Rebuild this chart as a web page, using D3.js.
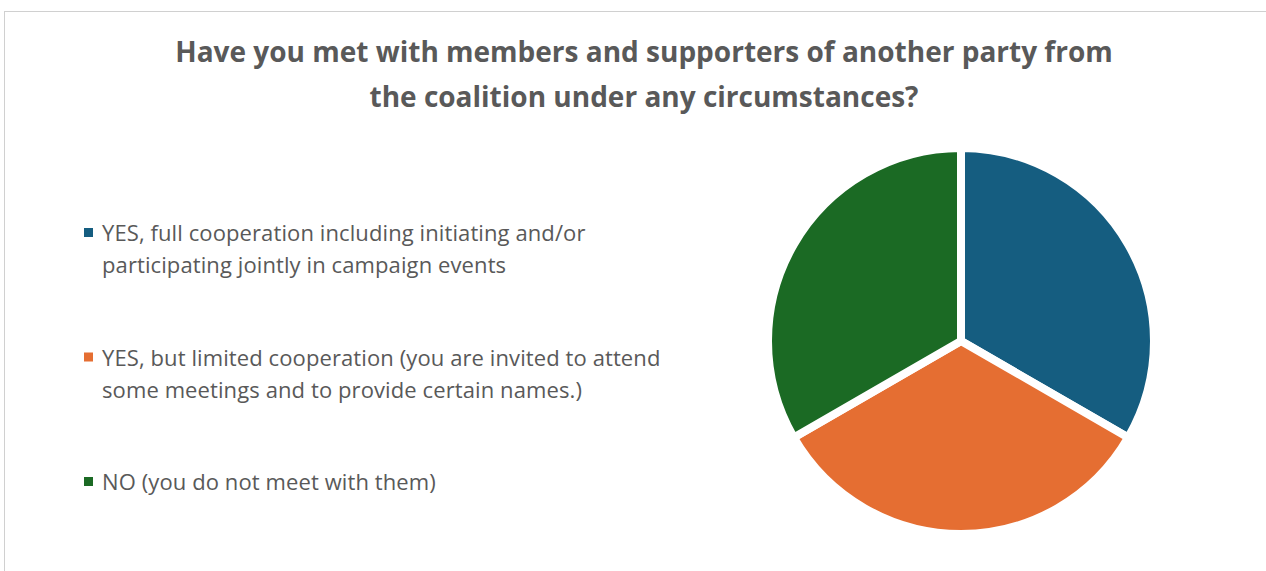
<!DOCTYPE html>
<html>
<head>
<meta charset="utf-8">
<script src="https://cdn.jsdelivr.net/npm/d3@7"></script>
<style>
  body { margin: 0; background: #fff; }
  svg { display: block; font-family: "Open Sans", sans-serif; }
</style>
</head>
<body>
<div id="chart"></div>
<script>
// DATA //
const categories = [
  "YES, full cooperation including initiating and/or participating jointly in campaign events",
  "YES, but limited cooperation (you are invited to attend some meetings and to provide certain names.)",
  "NO (you do not meet with them)",
];
const legendLines = [
  ["YES, full cooperation including initiating and/or", "participating jointly in campaign events"],
  ["YES, but limited cooperation (you are invited to attend", "some meetings and to provide certain names.)"],
  ["NO (you do not meet with them)"],
];
const values = [1, 1, 1];
const colors = ["#155d80", "#e56e32", "#1b6a24"];
const titleLines = [
  "Have you met with members and supporters of another party from",
  "the coalition under any circumstances?",
];

const width = 1266;
const height = 571;

const svg = d3
  .select("#chart")
  .append("svg")
  .attr("width", width)
  .attr("height", height);

// chart frame
svg
  .append("rect")
  .attr("x", 4.5)
  .attr("y", 11.5)
  .attr("width", width + 10)
  .attr("height", height + 10)
  .attr("fill", "#fff")
  .attr("stroke", "#d0d0d0")
  .attr("stroke-width", 1);

// title
svg
  .append("g")
  .selectAll("text")
  .data(titleLines)
  .enter()
  .append("text")
  .attr("x", 644)
  .attr("y", (d, i) => 62 + i * 45)
  .attr("text-anchor", "middle")
  .attr("fill", "#595959")
  .style("font-size", "28px")
  .style("font-weight", "bold")
  .text((d) => d);

// pie
const pie = d3.pie().sort(null).value((d) => d);
const arc = d3.arc().innerRadius(0).outerRadius(193);

const pieG = svg.append("g").attr("transform", "translate(961,341)");

pieG
  .selectAll("path")
  .data(pie(values))
  .enter()
  .append("path")
  .attr("d", arc)
  .attr("fill", (d, i) => colors[i])
  .attr("stroke", "#fff")
  .attr("stroke-width", 8)
  .attr("stroke-linejoin", "round");

// legend
const legend = svg
  .append("g")
  .selectAll("g")
  .data(categories)
  .enter()
  .append("g")
  .attr("transform", (d, i) => `translate(84, ${233 + i * 124.5})`);

legend
  .append("rect")
  .attr("x", 0)
  .attr("y", -5)
  .attr("width", 9)
  .attr("height", 9)
  .attr("fill", (d, i) => colors[i]);

legend
  .append("text")
  .attr("fill", "#595959")
  .style("font-size", "22px")
  .style("letter-spacing", "0.1px")
  .selectAll("tspan")
  .data((d, i) => legendLines[i])
  .enter()
  .append("tspan")
  .attr("x", 18)
  .attr("y", (d, j) => 8 + j * 32)
  .text((d) => d);
</script>
</body>
</html>
